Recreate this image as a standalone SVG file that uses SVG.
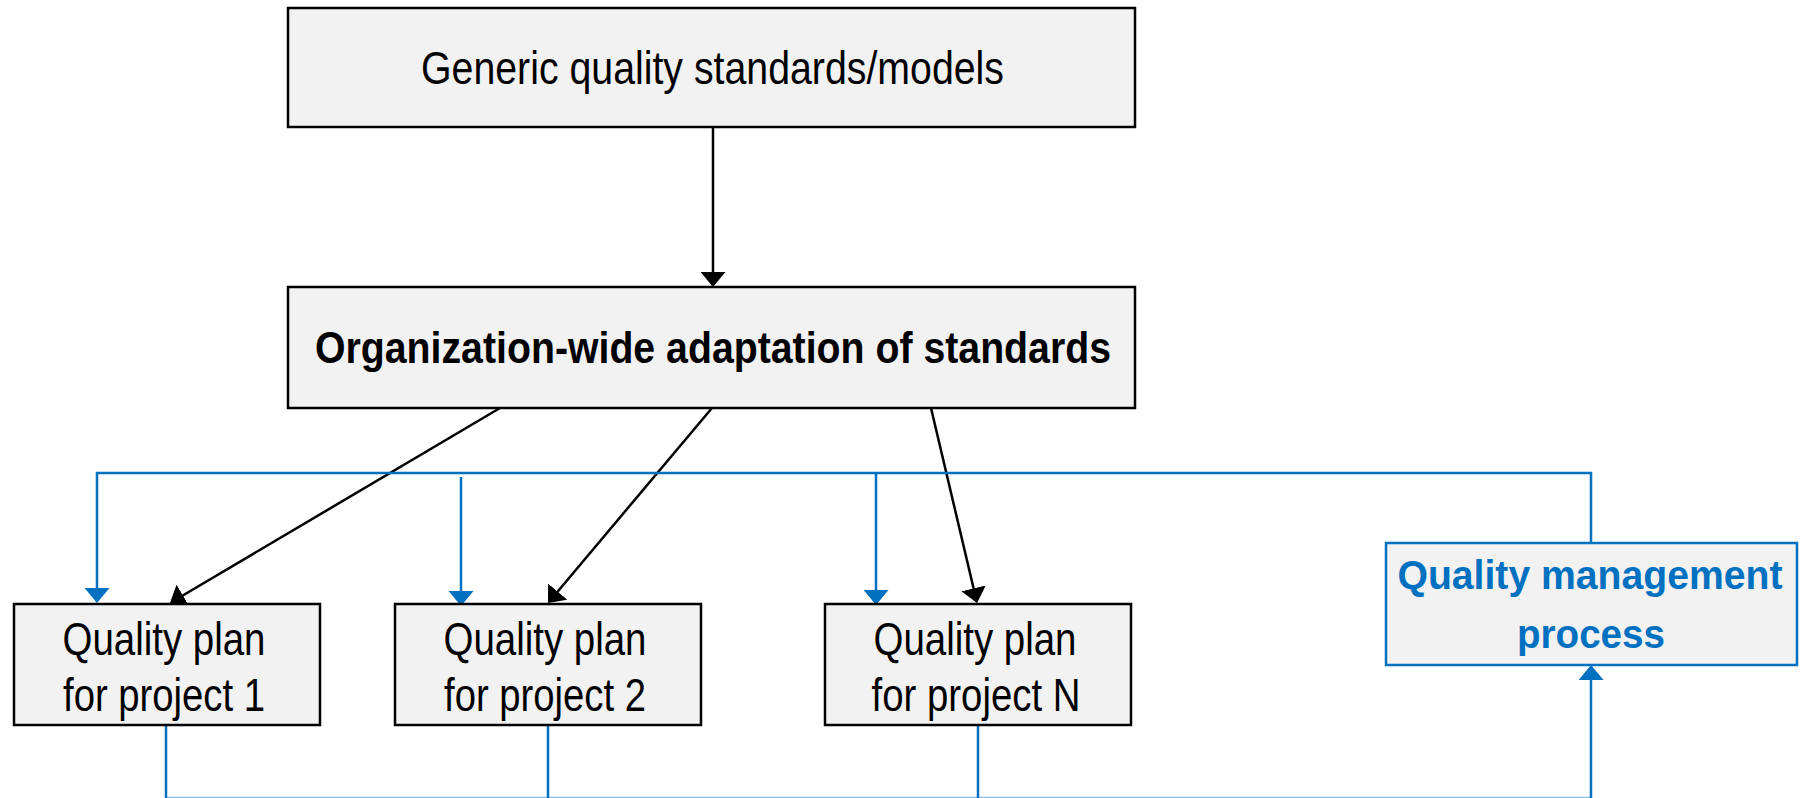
<svg xmlns="http://www.w3.org/2000/svg" width="1800" height="798" viewBox="0 0 1800 798">
  <style>
    .box { fill: #f2f2f2; stroke: #000; stroke-width: 2.5; }
    .qbox { fill: #f2f2f2; stroke: #0070c0; stroke-width: 2.5; }
    .t { font-family: "Liberation Sans", Arial, sans-serif; font-size: 46px; fill: #000; text-anchor: middle; }
    .tb { font-family: "Liberation Sans", Arial, sans-serif; font-weight: bold; font-size: 44px; fill: #000; text-anchor: middle; }
    .tq { font-family: "Liberation Sans", Arial, sans-serif; font-weight: bold; font-size: 41px; fill: #0070c0; text-anchor: middle; }
    .blk { fill: none; stroke: #000; stroke-width: 2.5; }
    .blu { fill: none; stroke: #0070c0; stroke-width: 2.5; }
  </style>
  <defs>
    <marker id="ahBlack" viewBox="0 0 15 25" refX="10" refY="12.5" markerWidth="15" markerHeight="25" markerUnits="userSpaceOnUse" orient="auto">
      <path d="M0,0 L15,12.5 L0,25 z" fill="#000"/>
    </marker>
    <marker id="ahBlue" viewBox="0 0 15 25" refX="10" refY="12.5" markerWidth="15" markerHeight="25" markerUnits="userSpaceOnUse" orient="auto">
      <path d="M0,0 L15,12.5 L0,25 z" fill="#0070c0"/>
    </marker>
  </defs>

  <g id="connectors">
    <!-- standards flow (black) -->
    <path class="blk" d="M713,127 V282" marker-end="url(#ahBlack)"/>
    <path class="blk" d="M500,408 L174.3,600.5" marker-end="url(#ahBlack)"/>
    <path class="blk" d="M712,408 L551.2,599.2" marker-end="url(#ahBlack)"/>
    <path class="blk" d="M931,408 L975.9,598.1" marker-end="url(#ahBlack)"/>
    <!-- quality management feedback (blue) -->
    <path class="blu" d="M1591,543 V473 H97 V598" marker-end="url(#ahBlue)"/>
    <path class="blu" d="M461,477 V601" marker-end="url(#ahBlue)"/>
    <path class="blu" d="M876,473 V600" marker-end="url(#ahBlue)"/>
    <path class="blu" d="M166,725 V798 M548,725 V798 M978,725 V798"/>
    <path d="M166,797.5 H1591" fill="none" stroke="#0070c0" stroke-opacity="0.45" stroke-width="1.5"/>
    <path class="blu" d="M1591,798 V670" marker-end="url(#ahBlue)"/>
  </g>

  <g id="generic-standards">
    <rect class="box" x="288" y="8" width="847" height="119"/>
    <text class="t" x="712.5" y="84" textLength="583" lengthAdjust="spacingAndGlyphs">Generic quality standards/models</text>
  </g>

  <g id="org-adaptation">
    <rect class="box" x="288" y="287" width="847" height="121"/>
    <text class="tb" x="713" y="363" textLength="796" lengthAdjust="spacingAndGlyphs">Organization-wide adaptation of standards</text>
  </g>

  <g id="plan-project-1">
    <rect class="box" x="14" y="604" width="306" height="121"/>
    <text class="t" x="164" y="655" textLength="203" lengthAdjust="spacingAndGlyphs">Quality plan</text>
    <text class="t" x="164" y="711" textLength="202" lengthAdjust="spacingAndGlyphs">for project 1</text>
  </g>

  <g id="plan-project-2">
    <rect class="box" x="395" y="604" width="306" height="121"/>
    <text class="t" x="545" y="655" textLength="203" lengthAdjust="spacingAndGlyphs">Quality plan</text>
    <text class="t" x="545" y="711" textLength="202" lengthAdjust="spacingAndGlyphs">for project 2</text>
  </g>

  <g id="plan-project-n">
    <rect class="box" x="825" y="604" width="306" height="121"/>
    <text class="t" x="975" y="655" textLength="203" lengthAdjust="spacingAndGlyphs">Quality plan</text>
    <text class="t" x="976" y="711" textLength="209" lengthAdjust="spacingAndGlyphs">for project N</text>
  </g>

  <g id="quality-management">
    <rect class="qbox" x="1386" y="543" width="411" height="122"/>
    <text class="tq" x="1590" y="589" textLength="385" lengthAdjust="spacingAndGlyphs">Quality management</text>
    <text class="tq" x="1591" y="648" textLength="148" lengthAdjust="spacingAndGlyphs">process</text>
  </g>
</svg>
